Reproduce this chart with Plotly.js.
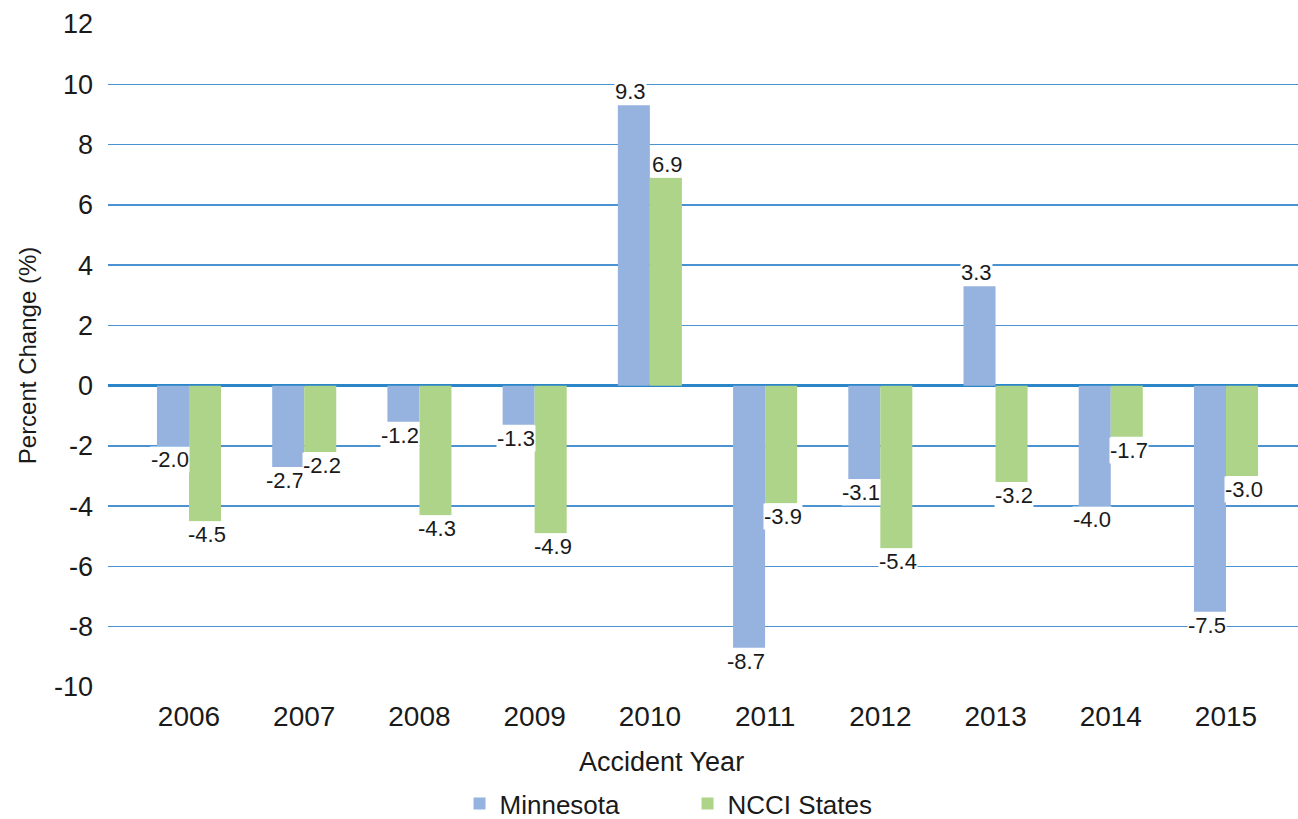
<!DOCTYPE html>
<html>
<head>
<meta charset="utf-8">
<script src="https://cdn.plot.ly/plotly-3.0.1.min.js"></script>
<style>html,body{margin:0;padding:0;background:#fff;}#chart{width:1298px;height:819px;}</style>
</head>
<body>
<div id="chart"></div>
<script>
const years = ["2006","2007","2008","2009","2010","2011","2012","2013","2014","2015"];
const minnesota = [-2.0,-2.7,-1.2,-1.3,9.3,-8.7,-3.1,3.3,-4.0,-7.5];
const ncci = [-4.5,-2.2,-4.3,-4.9,6.9,-3.9,-5.4,-3.2,-1.7,-3.0];
const seriesNames = ["Minnesota","NCCI States"];
const seriesColors = ["#95b3de","#aed48a"];
const yTickVals = [-10,-8,-6,-4,-2,0,2,4,6,8,10,12];
const yTickText = ["-10","-8","-6","-4","-2","0","2","4","6","8","10","12"];
const xTitle = "Accident Year";
const yTitle = "Percent Change (%)";

const FONT = "Liberation Sans, Arial, sans-serif";
const TXT = "#1a1a1a";
const bargap = 0.444;
const barW = (1 - bargap) / 2;

const traces = [minnesota, ncci].map((vals, k) => ({
  type: "bar",
  name: seriesNames[k],
  x: years,
  y: vals,
  marker: {color: seriesColors[k]},
  hoverinfo: "x+y"
}));

const annotations = [];
[minnesota, ncci].forEach((vals, k) => {
  const off = (k === 0 ? -1 : 1) * barW / 2;
  vals.forEach((v, i) => {
    annotations.push({
      x: i + off, y: v, xref: "x", yref: "y",
      xshift: k === 0 ? -3 : 2,
      text: v.toFixed(1),
      showarrow: false,
      yanchor: v >= 0 ? "bottom" : "top",
      bgcolor: "#ffffff",
      borderpad: 0,
      font: {family: FONT, size: 22, color: TXT}
    });
  });
});

annotations.push({
  xref: "paper", yref: "paper", x: 0.4655, y: -0.113,
  xanchor: "center", yanchor: "middle",
  text: xTitle, showarrow: false,
  font: {family: FONT, size: 27, color: TXT}
});

const layout = {
  width: 1298, height: 819,
  margin: {l: 108, r: 0, t: 24, b: 132, autoexpand: false},
  paper_bgcolor: "#ffffff",
  plot_bgcolor: "#ffffff",
  font: {family: FONT, color: TXT, size: 26},
  barmode: "group",
  bargap: bargap,
  bargroupgap: 0,
  showlegend: true,
  legend: {
    orientation: "h",
    x: 0.487, xanchor: "center",
    y: -0.176, yanchor: "middle",
    font: {family: FONT, size: 26, color: TXT},
    entrywidth: 183,
    traceorder: "normal"
  },
  xaxis: {
    type: "category",
    range: [-0.703, 9.625],
    automargin: false,
    showgrid: false,
    zeroline: false,
    showline: false,
    ticks: "",
    ticklabelstandoff: 10,
    tickfont: {family: FONT, size: 28, color: TXT}
  },
  yaxis: {
    range: [-10, 12],
    tickmode: "array",
    tickvals: yTickVals,
    ticktext: yTickText,
    automargin: false,
    showgrid: true,
    gridcolor: "#4a92d2",
    gridwidth: 1.5,
    zeroline: true,
    zerolinecolor: "#2a86c8",
    zerolinewidth: 3,
    showline: false,
    ticks: "",
    ticklabelstandoff: 14,
    tickfont: {family: FONT, size: 27, color: TXT},
    title: {text: yTitle, font: {family: FONT, size: 24, color: TXT}, standoff: 10}
  },
  annotations: annotations
};

Plotly.newPlot("chart", traces, layout, {displayModeBar: false, staticPlot: true});
</script>
</body>
</html>
